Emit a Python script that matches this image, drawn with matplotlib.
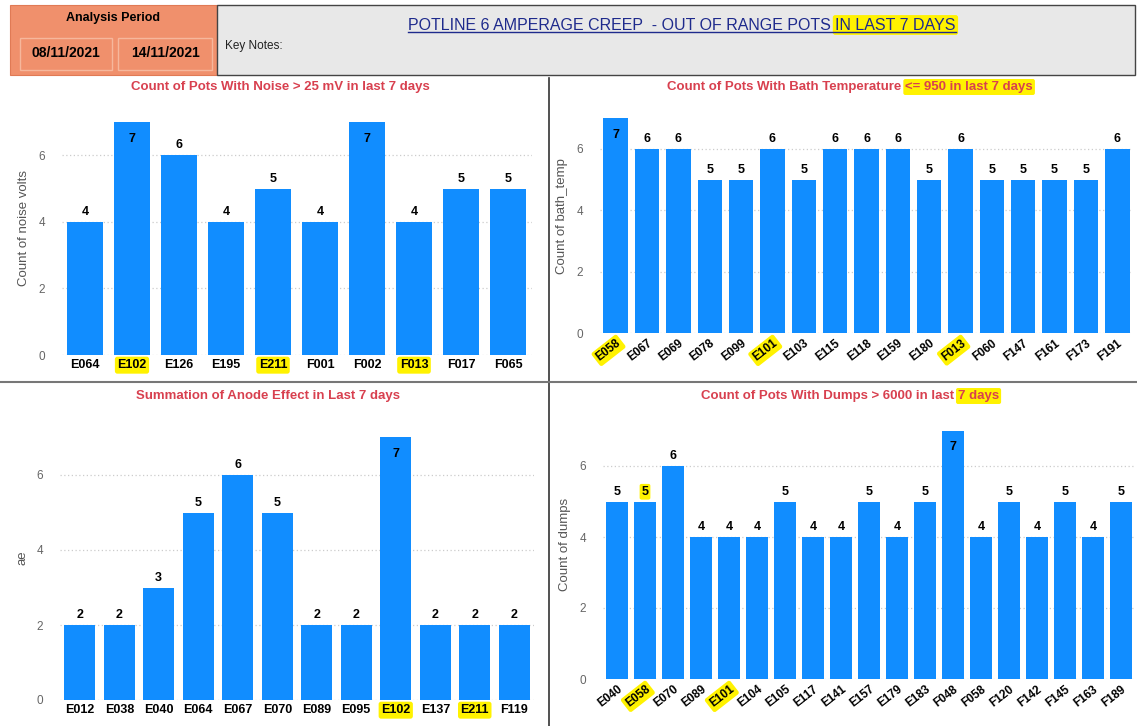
import matplotlib
matplotlib.use('Agg')
import matplotlib.pyplot as plt
from matplotlib.patches import Rectangle
from matplotlib.lines import Line2D

plt.rcParams['font.family'] = ['Liberation Sans', 'DejaVu Sans']

# data
noise_pots = ['E064', 'E102', 'E126', 'E195', 'E211', 'F001', 'F002', 'F013', 'F017', 'F065']
noise_counts = [4, 7, 6, 4, 5, 4, 7, 4, 5, 5]
noise_marked = ['E102', 'E211', 'F013']

bath_pots = ['E058', 'E067', 'E069', 'E078', 'E099', 'E101', 'E103', 'E115', 'E118',
             'E159', 'E180', 'F013', 'F060', 'F147', 'F161', 'F173', 'F191']
bath_counts = [7, 6, 6, 5, 5, 6, 5, 6, 6, 6, 5, 6, 5, 5, 5, 5, 6]
bath_marked = ['E058', 'E101', 'F013']

anode_pots = ['E012', 'E038', 'E040', 'E064', 'E067', 'E070', 'E089', 'E095', 'E102',
              'E137', 'E211', 'F119']
anode_sum = [2, 2, 3, 5, 6, 5, 2, 2, 7, 2, 2, 2]
anode_marked = ['E102', 'E211']

dump_pots = ['E040', 'E058', 'E070', 'E089', 'E101', 'E104', 'E105', 'E117', 'E141', 'E157',
             'E179', 'E183', 'F048', 'F058', 'F120', 'F142', 'F145', 'F163', 'F189']
dump_counts = [5, 5, 6, 4, 4, 4, 5, 4, 4, 5, 4, 5, 7, 4, 5, 4, 5, 4, 5]
dump_marked = ['E058', 'E101']

W, H = 1137, 726
BLUE = '#118DFF'
RED = '#D8404F'
YEL = '#FFF200'

fig = plt.figure(figsize=(W / 100, H / 100), dpi=100)
fig.patch.set_facecolor('white')


def fx(px):
    return px / W


def fy(py):
    return 1 - py / H


def rect_px(x0, y0, x1, y1, **kw):
    fig.add_artist(Rectangle((fx(x0), fy(y1)), fx(x1 - x0), (y1 - y0) / H,
                             transform=fig.transFigure, **kw))


def two_part(xc, y, a, b, size, color, weight='bold', underline=False, gap=4):
    r = fig.canvas.get_renderer()
    t1 = fig.text(0, fy(y), a, fontsize=size, color=color, weight=weight, va='center', ha='left')
    t2 = fig.text(0, fy(y), b, fontsize=size, color=color, weight=weight, va='center', ha='left',
                  bbox=dict(boxstyle='round,pad=0.15', fc=YEL, ec='none'), zorder=5)
    w1 = t1.get_window_extent(r).width + gap
    w2 = t2.get_window_extent(r).width
    x0 = xc - (w1 + w2) / 2
    t1.set_x(fx(x0))
    t2.set_x(fx(x0 + w1))
    if underline:
        uy = fy(y + size * 0.62)
        fig.add_artist(Line2D([fx(x0), fx(x0 + w1 + w2)], [uy, uy], color=color, lw=1,
                              transform=fig.transFigure, zorder=6))


# header
rect_px(10, 5, 217, 75, fc='#F0906C', ec='#E07A55', lw=0.8)
fig.text(fx(113), fy(18), 'Analysis Period', fontsize=9, weight='bold', ha='center', va='center')
for x0, x1, d in [(20, 112, '08/11/2021'), (118, 212, '14/11/2021')]:
    rect_px(x0, 38, x1, 70, fc='none', ec='#F6B79C', lw=1)
    fig.text(fx((x0 + x1) / 2), fy(53), d, fontsize=10, weight='bold', ha='center', va='center')
rect_px(217, 5, 1135, 75, fc='#E8E8E8', ec='#444444', lw=1)
fig.text(fx(225), fy(46), 'Key Notes:', fontsize=8.5, ha='left', va='center', color='#222222')
two_part(682, 25, 'POTLINE 6 AMPERAGE CREEP  - OUT OF RANGE POTS', 'IN LAST 7 DAYS',
         11.5, '#1E2A8C', weight='normal', underline=True)

# panel separators
fig.add_artist(Line2D([fx(549), fx(549)], [fy(78), 0], color='#333333', lw=1.2,
                      transform=fig.transFigure))
fig.add_artist(Line2D([0, 1], [fy(382), fy(382)], color='#777777', lw=1.5,
                      transform=fig.transFigure))


def panel(left, right, zero_y, unit, pots, vals, marked, ylabel, rotate):
    top = 7.6
    ax = fig.add_axes([fx(left), fy(zero_y), fx(right - left), top * unit / H])
    x = range(len(pots))
    ax.bar(x, vals, width=0.78, color=BLUE, zorder=3)
    ax.set_xlim(-0.5, len(pots) - 0.5)
    ax.set_ylim(0, top)
    ax.set_yticks([0, 2, 4, 6])
    ax.grid(axis='y', color='#CCCCCC', ls=(0, (1, 2)), lw=0.9, zorder=0)
    for s in ax.spines.values():
        s.set_visible(False)
    ax.tick_params(axis='y', length=0, labelsize=8.5, labelcolor='#666666', pad=12)
    ax.tick_params(axis='x', length=0, pad=3)
    ax.set_ylabel(ylabel, fontsize=9.5, color='#555555', labelpad=6)
    ax.set_xticks(list(x))
    if rotate:
        ax.set_xticklabels(pots, rotation=38, ha='right', rotation_mode='anchor',
                           fontsize=8.5, weight='bold')
    else:
        ax.set_xticklabels(pots, fontsize=9, weight='bold')
    for lab in ax.get_xticklabels():
        if lab.get_text() in marked:
            lab.set_bbox(dict(boxstyle='round,pad=0.2', fc=YEL, ec='none'))
    vmax = max(vals)
    for i, v in enumerate(vals):
        if v == vmax:
            ax.annotate(str(v), (i, v), xytext=(0, -12), textcoords='offset points',
                        ha='center', va='center', fontsize=9, weight='bold', zorder=4)
        else:
            ax.annotate(str(v), (i, v), xytext=(0, 7), textcoords='offset points',
                        ha='center', va='center', fontsize=9, weight='bold', zorder=4)
    return ax


panel(61.5, 531.5, 355, 33.3, noise_pots, noise_counts, noise_marked, 'Count of noise volts', False)
panel(600, 1133, 333, 30.7, bath_pots, bath_counts, bath_marked, 'Count of bath_temp', True)
panel(60, 534, 700, 37.5, anode_pots, anode_sum, anode_marked, 'ae', False)
ax4 = panel(603, 1135, 679, 35.5, dump_pots, dump_counts, dump_marked, 'Count of dumps', True)
# value label highlighted on the dumps chart
for t in ax4.texts:
    if t.xy[0] == dump_pots.index('E058'):
        t.set_bbox(dict(boxstyle='round,pad=0.15', fc=YEL, ec='none'))

# panel titles
fig.text(fx(280), fy(87), 'Count of Pots With Noise > 25 mV in last 7 days', fontsize=9.5,
         weight='bold', color=RED, ha='center', va='center')
two_part(850, 87, 'Count of Pots With Bath Temperature', '<= 950 in last 7 days', 9.5, RED)
fig.text(fx(268), fy(396), 'Summation of Anode Effect in Last 7 days', fontsize=9.5,
         weight='bold', color=RED, ha='center', va='center')
two_part(850, 396, 'Count of Pots With Dumps > 6000 in last', '7 days', 9.5, RED)

fig.savefig('out.png', dpi=100)
